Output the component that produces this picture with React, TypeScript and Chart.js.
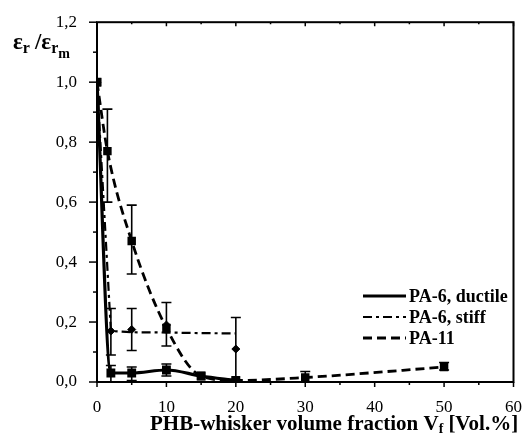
import React, { useEffect, useRef } from "react";
import { Chart, registerables } from "chart.js";
Chart.register(...registerables);

// ---- data ----
const ductileX = [0, 2, 5, 10, 15, 20];
const ductileY = [1.0, 0.03, 0.03, 0.04, 0.02, 0.005];
const ductileLo = [null, 0.0, 0.005, 0.02, null, null];
const ductileHi = [null, 0.055, 0.05, 0.06, null, null];

const stiffX = [0, 2, 5, 10, 20];
const stiffY = [1.0, 0.17, 0.175, 0.19, 0.11];
const stiffLo = [null, 0.09, 0.105, 0.12, 0.0];
const stiffHi = [null, 0.245, 0.245, 0.265, 0.215];
const stiffFitX = [0, 2, 3.6, 5, 10, 15, 20];
const stiffFitY = [1.0, 0.17, 0.168, 0.166, 0.165, 0.163, 0.162];

const pa11X = [0, 1.5, 5, 10, 15, 20, 30, 50];
const pa11Y = [1.0, 0.77, 0.47, 0.18, 0.02, 0.005, 0.015, 0.05];
const pa11Lo = [null, 0.6, 0.36, null, null, null, 0.0, 0.04];
const pa11Hi = [null, 0.91, 0.59, null, null, null, 0.035, 0.065];

const xTickValues = [0, 10, 20, 30, 40, 50, 60];
const yTickValues = [0, 0.2, 0.4, 0.6, 0.8, 1.0, 1.2];
const legendLabels = ["PA-6, ductile", "PA-6, stiff", "PA-11"];

const pts = (xs: number[], ys: number[]) => xs.map((x, i) => ({ x, y: ys[i] }));

const errorSets = [
  { xs: ductileX, lo: ductileLo, hi: ductileHi },
  { xs: stiffX, lo: stiffLo, hi: stiffHi },
  { xs: pa11X, lo: pa11Lo, hi: pa11Hi },
];

const SERIF = "'Liberation Serif', 'Times New Roman', serif";
const DASH_DOT = [9, 4, 3, 4];
const DASH = [9, 5];

const decorPlugin = {
  id: "decor",
  afterDatasetsDraw(chart: any) {
    const ctx = chart.ctx;
    const xs = chart.scales.x, ys = chart.scales.y;
    ctx.save();
    ctx.strokeStyle = "#000";
    ctx.lineWidth = 1.6;
    errorSets.forEach((s) => {
      s.xs.forEach((xv, i) => {
        const lo = s.lo[i], hi = s.hi[i];
        if (lo == null || hi == null) return;
        const px = xs.getPixelForValue(xv);
        const pl = ys.getPixelForValue(lo), ph = ys.getPixelForValue(hi);
        ctx.beginPath();
        ctx.moveTo(px, pl); ctx.lineTo(px, ph);
        ctx.moveTo(px - 5, pl); ctx.lineTo(px + 5, pl);
        ctx.moveTo(px - 5, ph); ctx.lineTo(px + 5, ph);
        ctx.stroke();
      });
    });
    ctx.restore();
  },
  afterDraw(chart: any) {
    const ctx = chart.ctx;
    const a = chart.chartArea;
    const xs = chart.scales.x, ys = chart.scales.y;
    ctx.save();
    ctx.strokeStyle = "#000";
    ctx.lineWidth = 2;
    ctx.strokeRect(a.left, a.top, a.right - a.left, a.bottom - a.top);
    ctx.lineWidth = 1.5;
    // x ticks
    for (let v = 0; v <= 60; v += 5) {
      const px = xs.getPixelForValue(v);
      const len = v % 10 === 0 ? 5 : 3;
      ctx.beginPath();
      ctx.moveTo(px, a.bottom); ctx.lineTo(px, a.bottom + len);
      ctx.moveTo(px, a.top); ctx.lineTo(px, a.top + len - 1);
      ctx.stroke();
    }
    // y ticks
    for (let k = 0; k <= 12; k++) {
      const v = k / 10;
      const py = ys.getPixelForValue(v);
      const len = k % 2 === 0 ? 8 : 4;
      ctx.beginPath();
      ctx.moveTo(a.left, py); ctx.lineTo(a.left - len, py);
      ctx.stroke();
    }
    // legend
    const items = [
      { dash: [], w: 3 },
      { dash: DASH_DOT, w: 2.2 },
      { dash: DASH, w: 2.8 },
    ];
    const ly = [296, 317, 338];
    ctx.font = `bold 18px ${SERIF}`;
    ctx.fillStyle = "#000";
    ctx.textBaseline = "middle";
    items.forEach((it, i) => {
      ctx.beginPath();
      ctx.setLineDash(it.dash);
      ctx.lineWidth = it.w;
      ctx.moveTo(363, ly[i]); ctx.lineTo(406, ly[i]);
      ctx.stroke();
      ctx.setLineDash([]);
      ctx.fillText(legendLabels[i], 409, ly[i] + 1);
    });
    // x title
    ctx.textBaseline = "alphabetic";
    ctx.font = `bold 21px ${SERIF}`;
    let x = 150;
    const base = 430;
    const t1 = "PHB-whisker volume fraction V";
    ctx.fillText(t1, x, base);
    x += ctx.measureText(t1).width;
    ctx.font = `bold 14px ${SERIF}`;
    ctx.fillText("f", x, base + 3);
    x += ctx.measureText("f").width + 5;
    ctx.font = `bold 21px ${SERIF}`;
    ctx.fillText("[Vol.%]", x, base);
    // y title
    let yx = 13;
    const yb = 49;
    ctx.font = `bold 23px ${SERIF}`;
    ctx.fillText("\u03b5", yx, yb);
    yx += ctx.measureText("\u03b5").width;
    ctx.font = `bold 16px ${SERIF}`;
    ctx.fillText("r", yx, yb + 4);
    yx += ctx.measureText("r").width + 5;
    ctx.font = `bold 23px ${SERIF}`;
    ctx.fillText("/\u03b5", yx, yb);
    yx += ctx.measureText("/\u03b5").width;
    ctx.font = `bold 16px ${SERIF}`;
    ctx.fillText("r", yx, yb + 4);
    yx += ctx.measureText("r").width;
    ctx.font = `bold 14px ${SERIF}`;
    ctx.fillText("m", yx, yb + 9);
    ctx.restore();
  },
};

export default function App() {
  const ref = useRef<HTMLCanvasElement>(null);
  useEffect(() => {
    document.body.style.margin = "0";
    const chart = new Chart(ref.current!, {
      type: "line",
      data: {
        datasets: [
          {
            data: pts(ductileX, ductileY),
            borderColor: "#000",
            backgroundColor: "#000",
            borderWidth: 3.2,
            pointStyle: "rect",
            pointRadius: 4,
            cubicInterpolationMode: "monotone",
          },
          {
            data: pts(stiffFitX, stiffFitY),
            borderColor: "#000",
            borderWidth: 2.2,
            borderDash: DASH_DOT,
            pointRadius: 0,
          },
          {
            data: pts(stiffX, stiffY),
            showLine: false,
            borderColor: "#000",
            backgroundColor: "#000",
            pointStyle: "rectRot",
            pointRadius: 4,
          },
          {
            data: pts(pa11X, pa11Y),
            borderColor: "#000",
            backgroundColor: "#000",
            borderWidth: 2.8,
            borderDash: DASH,
            pointStyle: "rect",
            pointRadius: 4,
            cubicInterpolationMode: "monotone",
          },
        ],
      },
      options: {
        animation: false,
        responsive: false,
        layout: { padding: { top: 20, right: 10, left: 0, bottom: 0 } },
        plugins: { legend: { display: false }, tooltip: { enabled: false } },
        scales: {
          x: {
            type: "linear",
            min: 0,
            max: 60,
            afterFit: (s: any) => { s.height = 54; },
            afterBuildTicks: (s: any) => { s.ticks = xTickValues.map((v) => ({ value: v })); },
            ticks: { font: { family: SERIF, size: 17 }, color: "#000", padding: 7, maxRotation: 0 },
            grid: { display: false },
            border: { display: false },
          },
          y: {
            type: "linear",
            min: 0,
            max: 1.2,
            afterFit: (s: any) => { s.width = 97; },
            afterBuildTicks: (s: any) => { s.ticks = yTickValues.map((v) => ({ value: v })); },
            ticks: {
              font: { family: SERIF, size: 17 },
              color: "#000",
              padding: 12,
              callback: (v: any) => Number(v).toFixed(1).replace(".", ","),
            },
            grid: { display: false },
            border: { display: false },
          },
        },
      },
      plugins: [decorPlugin],
    } as any);
    return () => chart.destroy();
  }, []);
  return <canvas ref={ref} width={529} height={436} style={{ display: "block" }} />;
}
